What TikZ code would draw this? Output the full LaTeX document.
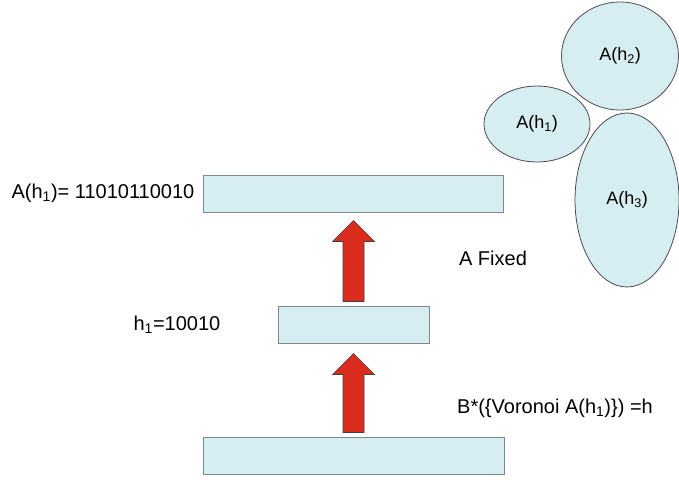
\documentclass[tikz,border=0pt]{standalone}
\usepackage{fontspec}
\setmainfont{Liberation Sans}
\usepackage{tikz}
\usetikzlibrary{positioning,calc,shapes.geometric}

\definecolor{barfill}{RGB}{214,238,242}
\definecolor{barline}{RGB}{128,136,138}
\definecolor{arrowred}{RGB}{218,44,28}

% block arrow pointing up, from a foot coordinate to a tip coordinate
\newcommand{\blockarrow}[2]{%
  \draw[redarrow] let \p1=(#1), \p2=(#2) in
    (\x1-10.5pt,\y1) -- (\x1-10.5pt,\y2-21pt) -- (\x1-21pt,\y2-21pt) -- (\x1,\y2)
    -- (\x1+21pt,\y2-21pt) -- (\x1+10.5pt,\y2-21pt) -- (\x1+10.5pt,\y1) -- cycle;}

\begin{document}
\begin{tikzpicture}[
    x=1pt, y=-1pt,
    font=\fontsize{20}{24}\selectfont,
    bar/.style={draw=barline, line width=1pt, fill=barfill, minimum height=37pt, inner sep=0pt},
    region/.style={ellipse, draw=black!70, line width=0.8pt, fill=barfill, inner sep=0pt, font=\fontsize{18}{22}\selectfont},
    label/.style={inner sep=0pt},
    redarrow/.style={fill=arrowred, draw=black!75, line width=0.6pt}
]
\useasboundingbox (0,0) rectangle (679,479);

\node[bar, minimum width=300pt] (top) at (353,193.5) {};
\node[bar, minimum width=151pt] (mid) at (353.5,324.5) {};
\node[bar, minimum width=301pt] (base) at (353.5,455.5) {};

\node[label, left=8pt of top] (code) {A(h\textsubscript{1})= 11010110010};
\node[label, left=57pt of mid] (word) {h\textsubscript{1}=10010};
\node[label] (fixed) at (493,258) {A Fixed};
\node[label] (decode) at (555,408) {B*(\{Voronoi A(h\textsubscript{1})\}) =h};

\node[region, minimum width=106pt, minimum height=76pt] (r1) at (537,124) {A(h\textsubscript{1})};
\node[region, minimum width=117pt, minimum height=108pt] (r2) at (620,56) {A(h\textsubscript{2})};
\node[region, minimum width=104pt, minimum height=174pt] (r3) at (627,200) {A(h\textsubscript{3})};

\coordinate (foot1) at ($(mid.north)+(0,-4)$);
\coordinate (tip1) at ($(top.south)+(0,8)$);
\coordinate (foot2) at ($(base.north)+(0,-4)$);
\coordinate (tip2) at ($(mid.south)+(0,10)$);
\blockarrow{foot1}{tip1}
\blockarrow{foot2}{tip2}
\end{tikzpicture}
\end{document}
